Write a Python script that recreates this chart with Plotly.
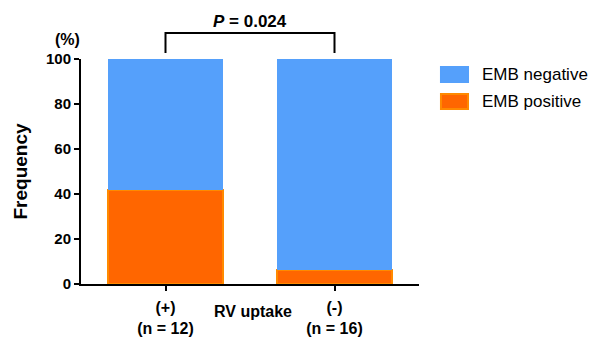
import plotly.graph_objects as go

categories = ["(+)<br>(n = 12)", "(-)<br>(n = 16)"]
emb_positive = [41.7, 6.25]
emb_negative = [58.3, 93.75]
y_ticks = [0, 20, 40, 60, 80, 100]
p_text = "<i>P</i> = 0.024"

FONT = "Liberation Sans, Arial, sans-serif"
BLUE = "#55a0fb"
ORANGE = "#ff6600"
ORANGE_EDGE = "#ff8a00"

xs = list(range(len(categories)))

fig = go.Figure()
fig.add_trace(go.Bar(x=xs, y=emb_positive, width=0.68, marker=dict(color=ORANGE, line=dict(color=ORANGE_EDGE, width=2)),
                     name="EMB positive", showlegend=False))
fig.add_trace(go.Bar(x=xs, y=emb_negative, width=0.68, marker=dict(color=BLUE, line=dict(width=0)),
                     name="EMB negative", showlegend=False))

fig.update_layout(
    barmode="stack",
    width=597, height=339,
    margin=dict(l=81, r=178, t=59, b=55, autoexpand=False),
    plot_bgcolor="white", paper_bgcolor="white",
    font=dict(family=FONT, color="black"),
    bargap=0,
)
fig.update_xaxes(
    range=[-0.5, 1.5], tickmode="array", tickvals=xs,
    ticktext=["<b>" + c.replace("<br>", "</b><br><b>") + "</b>" for c in categories],
    ticks="outside", ticklen=5, tickwidth=2, tickcolor="black", ticklabelstandoff=3,
    showline=True, linecolor="black", linewidth=2, showgrid=False, zeroline=False,
    tickfont=dict(size=16, family=FONT, color="black"), automargin=False,
)
fig.update_yaxes(
    range=[0, 100], tickmode="array", tickvals=y_ticks, ticktext=[f"<b>{v}</b>" for v in y_ticks],
    ticks="outside", ticklen=5, tickwidth=2, tickcolor="black",
    showline=True, linecolor="black", linewidth=2, showgrid=False, zeroline=False,
    tickfont=dict(size=15, family=FONT, color="black"), automargin=False,
    title=dict(text="<b>Frequency</b>", font=dict(size=19, family=FONT), standoff=13),
)

# bracket
fig.add_shape(type="path", xref="x", yref="paper",
              path=f"M {xs[0]},1.027 L {xs[0]},1.116 L {xs[1]},1.116 L {xs[1]},1.027",
              line=dict(color="black", width=2))
fig.add_annotation(x=0.5, xref="x", y=1.168, yref="paper", text=f"<b>{p_text}</b>", showarrow=False,
                   font=dict(size=17, family=FONT), yanchor="middle")
fig.add_annotation(x=0.003, xref="paper", y=1.087, yref="paper", text="<b>(%)</b>", showarrow=False,
                   font=dict(size=16, family=FONT), xanchor="right", yanchor="middle")
fig.add_annotation(x=0.51, xref="paper", y=-0.12, yref="paper", text="<b>RV uptake</b>", showarrow=False,
                   font=dict(size=16, family=FONT), yanchor="middle")

# legend (manual)
legend_items = [("EMB negative", BLUE, BLUE, 0.964, 0.898), ("EMB positive", ORANGE, ORANGE_EDGE, 0.844, 0.778)]
for label, fill, edge, y1, y0 in legend_items:
    fig.add_shape(type="rect", xref="paper", yref="paper", x0=1.065, x1=1.145, y0=y0, y1=y1,
                  fillcolor=fill, line=dict(color=edge, width=2))
    fig.add_annotation(x=1.18, xref="paper", y=(y0 + y1) / 2, yref="paper", text=label, showarrow=False,
                       xanchor="left", yanchor="middle", font=dict(size=17, family=FONT))

fig.write_html("out.html", config={"displayModeBar": False},
               post_script="document.body.style.margin='0';")
